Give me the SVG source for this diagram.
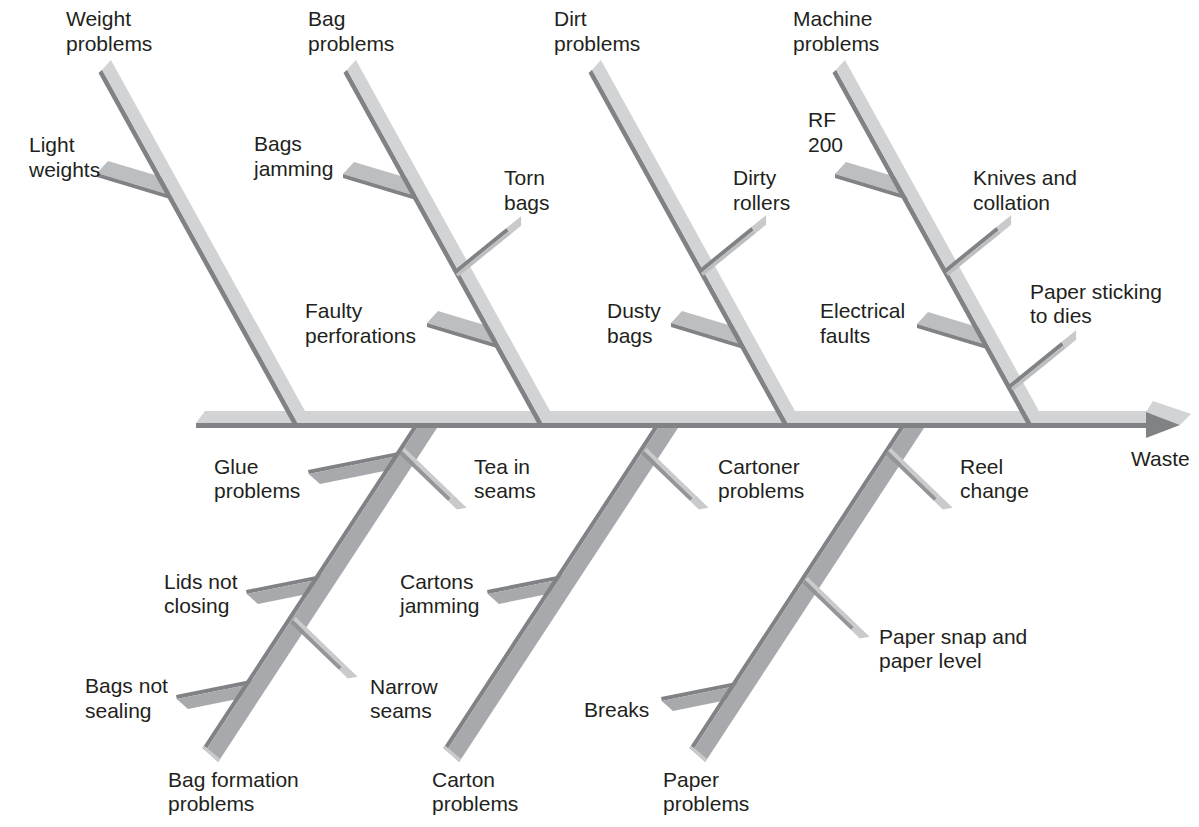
<svg xmlns="http://www.w3.org/2000/svg" width="1199" height="827" viewBox="0 0 1199 827">
<style>
.lt{fill:#d1d3d4}.dk{fill:#808285}.md{fill:#a7a9ac}.sl{fill:#bcbec0}.cp{fill:#c9cacc}.md2{fill:#939598}
text{font-family:"Liberation Sans",Arial,Helvetica,sans-serif;font-size:21px;fill:#231f20}
</style>
<defs>
<g id="ur"><rect class="dk" x="0" y="-4" width="68" height="4"/><rect class="sl" x="0" y="0" width="68" height="3.5"/><polygon class="cp" points="68,-4 87,-4 81,3.5 68,3.5"/></g>
<g id="lr"><rect class="cp" x="0" y="-4" width="68" height="4"/><rect class="md2" x="0" y="0" width="68" height="4"/><polygon class="cp" points="68,-4 86,-4 80,4 68,4"/></g>
</defs>
<rect width="1199" height="827" fill="#fff"/>

<g id="sub-bars-back">
<g id="b-light-weights"><polygon class="sl" points="108,161 170,179.6 170,194.9 97,173"/><polygon class="dk" points="97,173 170,194.9 170,198.9 97,177"/></g>
<g id="b-bags-jamming"><polygon class="sl" points="354,162 416,180.6 416,195.9 343,174"/><polygon class="dk" points="343,174 416,195.9 416,199.9 343,178"/></g>
<g id="b-rf200"><polygon class="sl" points="846,162 908,180.6 908,195.9 835,174"/><polygon class="dk" points="835,174 908,195.9 908,199.9 835,178"/></g>
<g id="b-faulty"><polygon class="sl" points="438,311 497,328.7 497,344 427,323"/><polygon class="dk" points="427,323 497,344 497,348 427,327"/></g>
<g id="b-dusty"><polygon class="sl" points="682,311 741,328.7 741,344.2 671,323"/><polygon class="dk" points="671,323 741,344.2 741,348.2 671,327"/></g>
<g id="b-electrical"><polygon class="sl" points="928,312 986,329.4 986,344.7 917,324"/><polygon class="dk" points="917,324 986,344.7 986,348.7 917,328"/></g>
<g id="b-glue" transform="translate(308,470) rotate(-11.3)"><polygon class="dk" points="0,0 95,0 95,4 0,4"/><polygon class="md" points="0,4 95,4 95,16 9,16"/></g>
<g id="b-lids" transform="translate(246,590) rotate(-11.3)"><polygon class="dk" points="0,0 82,0 82,4 0,4"/><polygon class="md" points="0,4 82,4 82,16 9,16"/></g>
<g id="b-bags-sealing" transform="translate(176,695) rotate(-11.3)"><polygon class="dk" points="0,0 80,0 80,4 0,4"/><polygon class="md" points="0,4 80,4 80,16 9,16"/></g>
<g id="b-cartons-jamming" transform="translate(487,590) rotate(-11.3)"><polygon class="dk" points="0,0 82,0 82,4 0,4"/><polygon class="md" points="0,4 82,4 82,16 9,16"/></g>
<g id="b-breaks" transform="translate(661,697) rotate(-11.3)"><polygon class="dk" points="0,0 82,0 82,4 0,4"/><polygon class="md" points="0,4 82,4 82,16 9,16"/></g>
</g>

<g id="lower-branches">
<g id="br-bag-formation"><polygon class="dk" points="413.3,426 418.3,426 205.6,750.8 202.4,748"/><polygon class="md" points="418.3,426 438.3,426 218.2,762 205.6,750.8"/><polygon class="cp" points="202.4,748 218.2,762 220.2,759 204,745.5"/></g>
<g id="br-carton" transform="translate(241,0)"><polygon class="dk" points="413.3,426 418.3,426 205.6,750.8 202.4,748"/><polygon class="md" points="418.3,426 438.3,426 218.2,762 205.6,750.8"/><polygon class="cp" points="202.4,748 218.2,762 220.2,759 204,745.5"/></g>
<g id="br-paper" transform="translate(487,0)"><polygon class="dk" points="413.3,426 418.3,426 205.6,750.8 202.4,748"/><polygon class="md" points="418.3,426 438.3,426 218.2,762 205.6,750.8"/><polygon class="cp" points="202.4,748 218.2,762 220.2,759 204,745.5"/></g>
</g>

<g id="spine">
<polygon class="lt" points="205,411 1150,411 1150,423 196,423"/>
<rect class="dk" x="196" y="423" width="954" height="5"/>
</g>

<g id="upper-branches">
<g id="br-weight"><polygon class="dk" points="98.5,73 102.1,69.7 297.5,423 292,423"/><polygon class="lt" points="102.1,69.7 110.9,60 311.6,423 297.5,423"/></g>
<g id="br-bag" transform="translate(245,0)"><polygon class="dk" points="98.5,73 102.1,69.7 297.5,423 292,423"/><polygon class="lt" points="102.1,69.7 110.9,60 311.6,423 297.5,423"/></g>
<g id="br-dirt" transform="translate(490,0)"><polygon class="dk" points="98.5,73 102.1,69.7 297.5,423 292,423"/><polygon class="lt" points="102.1,69.7 110.9,60 311.6,423 297.5,423"/></g>
<g id="br-machine" transform="translate(734,0)"><polygon class="dk" points="98.5,73 102.1,69.7 297.5,423 292,423"/><polygon class="lt" points="102.1,69.7 110.9,60 311.6,423 297.5,423"/></g>
</g>

<g id="sub-bars-front">
<use id="b-torn" href="#ur" transform="translate(456,274) rotate(-39)"/>
<use id="b-dirty" href="#ur" transform="translate(701,273) rotate(-39)"/>
<use id="b-knives" href="#ur" transform="translate(946,273) rotate(-39)"/>
<use id="b-paper-sticking" href="#ur" transform="translate(1011,388) rotate(-39)"/>
<use id="b-tea" href="#lr" transform="translate(402,451) rotate(44)"/>
<use id="b-cartoner" href="#lr" transform="translate(644,451) rotate(44)"/>
<use id="b-reel" href="#lr" transform="translate(888,451) rotate(44)"/>
<use id="b-narrow" href="#lr" transform="translate(293,620) rotate(44)"/>
<use id="b-paper-snap" href="#lr" transform="translate(805,580) rotate(44)"/>
</g>

<g id="arrowhead">
<polygon class="lt" points="1146,412 1153,401 1191,414 1180,425"/>
<polygon class="dk" points="1146,412 1180,425 1146,438"/>
</g>

<g id="labels">
<text id="t-weight" x="66" y="26">Weight<tspan x="66" dy="25">problems</tspan></text>
<text id="t-light" x="29" y="152">Light<tspan x="29" dy="25">weights</tspan></text>
<text id="t-bag" x="308" y="26">Bag<tspan x="308" dy="25">problems</tspan></text>
<text id="t-bags-jamming" x="254" y="151">Bags<tspan x="254" dy="25">jamming</tspan></text>
<text id="t-torn" x="504" y="185">Torn<tspan x="504" dy="25">bags</tspan></text>
<text id="t-faulty" x="305" y="318">Faulty<tspan x="305" dy="25">perforations</tspan></text>
<text id="t-dirt" x="554" y="26">Dirt<tspan x="554" dy="25">problems</tspan></text>
<text id="t-dirty" x="733" y="185">Dirty<tspan x="733" dy="25">rollers</tspan></text>
<text id="t-dusty" x="607" y="318">Dusty<tspan x="607" dy="25">bags</tspan></text>
<text id="t-machine" x="793" y="26">Machine<tspan x="793" dy="25">problems</tspan></text>
<text id="t-rf" x="808" y="127">RF<tspan x="808" dy="25">200</tspan></text>
<text id="t-knives" x="973" y="185">Knives and<tspan x="973" dy="25">collation</tspan></text>
<text id="t-electrical" x="820" y="318">Electrical<tspan x="820" dy="25">faults</tspan></text>
<text id="t-paper-sticking" x="1030" y="299">Paper sticking<tspan x="1030" dy="24">to dies</tspan></text>
<text id="t-waste" x="1131" y="466">Waste</text>
<text id="t-glue" x="214" y="474">Glue<tspan x="214" dy="24">problems</tspan></text>
<text id="t-tea" x="474" y="474">Tea in<tspan x="474" dy="24">seams</tspan></text>
<text id="t-cartoner" x="718" y="474">Cartoner<tspan x="718" dy="24">problems</tspan></text>
<text id="t-reel" x="960" y="474">Reel<tspan x="960" dy="24">change</tspan></text>
<text id="t-lids" x="164" y="589">Lids not<tspan x="164" dy="24">closing</tspan></text>
<text id="t-cartons-jamming" x="400" y="589">Cartons<tspan x="400" dy="24">jamming</tspan></text>
<text id="t-narrow" x="370" y="694">Narrow<tspan x="370" dy="24">seams</tspan></text>
<text id="t-paper-snap" x="879" y="644">Paper snap and<tspan x="879" dy="24">paper level</tspan></text>
<text id="t-bags-sealing" x="85" y="693">Bags not<tspan x="85" dy="25">sealing</tspan></text>
<text id="t-breaks" x="584" y="717">Breaks</text>
<text id="t-bag-formation" x="168" y="787">Bag formation<tspan x="168" dy="24">problems</tspan></text>
<text id="t-carton" x="432" y="787">Carton<tspan x="432" dy="24">problems</tspan></text>
<text id="t-paper" x="663" y="787">Paper<tspan x="663" dy="24">problems</tspan></text>
</g>
</svg>
